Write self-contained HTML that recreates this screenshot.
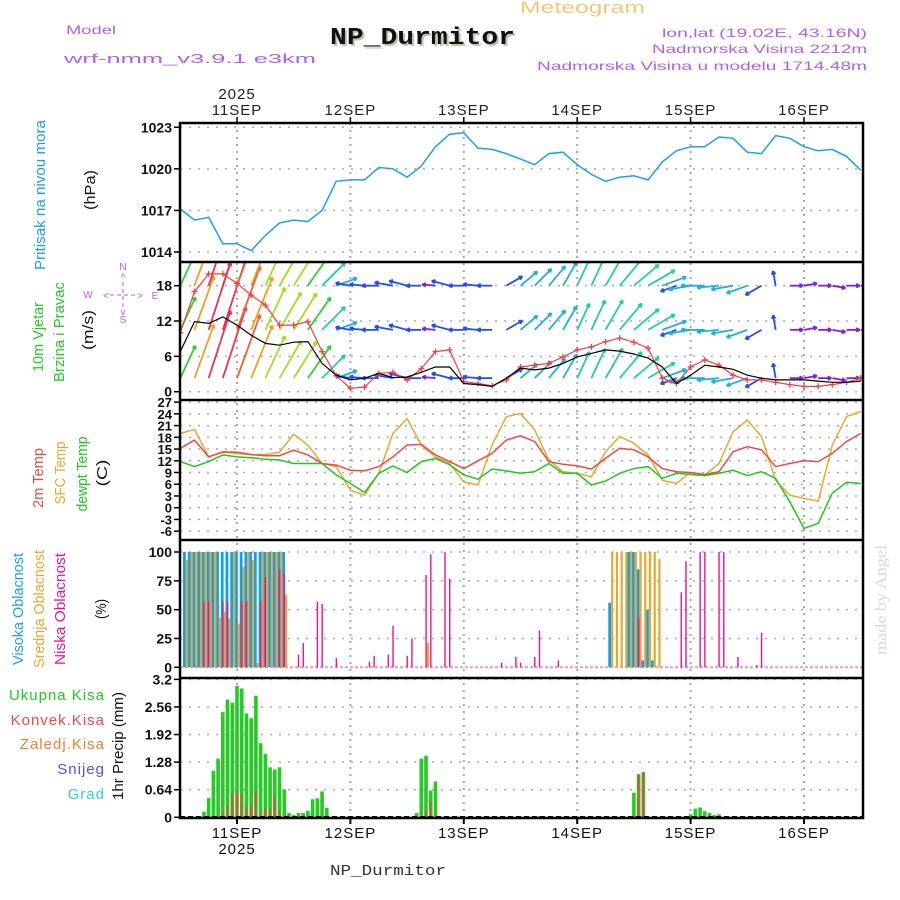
<!DOCTYPE html>
<html><head><meta charset="utf-8">
<style>
html,body{margin:0;padding:0;background:#fff;}
svg{display:block;font-family:"Liberation Sans",sans-serif;}
</style></head>
<body>
<svg id="chart" width="900" height="900" viewBox="0 0 900 900" xmlns="http://www.w3.org/2000/svg">
<rect x="0" y="0" width="900" height="900" fill="#fff"/>
<text x="520" y="13" font-size="17" fill="#f0c878" textLength="125" lengthAdjust="spacingAndGlyphs">Meteogram</text>
<text x="66" y="34" font-size="12" fill="#b060f0" textLength="50" lengthAdjust="spacingAndGlyphs">Model</text>
<text x="64" y="63" font-size="13" fill="#b060f0" textLength="252" lengthAdjust="spacingAndGlyphs">wrf-nmm_v3.9.1 e3km</text>
<text x="332" y="46" font-size="24" font-weight="bold" font-family="Liberation Mono, monospace" fill="#b8c8b0" textLength="185" lengthAdjust="spacingAndGlyphs">NP_Durmitor</text>
<text x="330" y="44" font-size="24" font-weight="bold" font-family="Liberation Mono, monospace" fill="#111" textLength="185" lengthAdjust="spacingAndGlyphs">NP_Durmitor</text>
<text x="867" y="37" font-size="12" fill="#b060f0" text-anchor="end" textLength="205" lengthAdjust="spacingAndGlyphs">lon,lat (19.02E, 43.16N)</text>
<text x="867" y="53" font-size="12" fill="#b060f0" text-anchor="end" textLength="215" lengthAdjust="spacingAndGlyphs">Nadmorska Visina 2212m</text>
<text x="867" y="70" font-size="12" fill="#b060f0" text-anchor="end" textLength="330" lengthAdjust="spacingAndGlyphs">Nadmorska Visina u modelu 1714.48m</text>
<text x="388" y="875" font-size="15" font-family="Liberation Mono, monospace" fill="#333" text-anchor="middle" textLength="116" lengthAdjust="spacingAndGlyphs">NP_Durmitor</text>
<text transform="translate(886,600) rotate(-90)" font-size="16" font-family="Liberation Serif, serif" fill="#d4dcd4" text-anchor="middle" textLength="110" lengthAdjust="spacingAndGlyphs">made by Angel</text>
</svg>
<script>
// ===== data (3-hourly, hours relative to 11SEP 00UTC) =====
const hours = [-12,-9,-6,-3,0,3,6,9,12,15,18,21,24,27,30,33,36,39,42,45,48,51,54,57,60,63,66,69,72,75,78,81,84,87,90,93,96,99,102,105,108,111,114,117,120,123,126,129,132];
const pressure = [1017.1,1016.3,1016.5,1014.6,1014.6,1014.1,1015.2,1016.1,1016.3,1016.2,1017,1019.1,1019.2,1019.2,1020.1,1020,1019.4,1020.2,1021.6,1022.5,1022.6,1021.5,1021.4,1021.1,1020.7,1020.3,1021.1,1021.2,1020.3,1019.6,1019.1,1019.4,1019.5,1019.2,1020.5,1021.3,1021.6,1021.6,1022.3,1022.2,1021.2,1021.1,1022.4,1022.2,1021.6,1021.3,1021.4,1020.9,1019.9];
const windSpeed = [6.8,11.9,11.6,12.7,11.3,9.6,8.2,7.9,8.4,8.5,4.8,2.8,2,2.3,3.1,2.4,2.5,3.3,4.2,4.2,1.4,1.2,0.9,2.3,4,3.7,4,4.8,5.9,6.5,7.1,6.9,6.4,5.7,4.2,1.4,2.8,4.5,4.2,3.8,2.8,2.3,2,2,2,1.8,1.6,1.6,1.8];
const windGust = [10,17,20,20,18.4,16.4,14.7,11.3,11.3,11.9,6.8,2.7,0.6,0.8,3.1,3.3,2,3.9,6.8,7.1,1.7,1.4,1,2,4.2,4.5,4.8,5.9,7.1,7.6,8.5,9.1,8.4,7.4,2.3,1.4,4.2,5.4,4.5,2.8,2,2,1.6,1.2,0.9,0.9,1.2,1.6,2.3];
const arrowSpeed = [8,14,18,19,17,14,11,10,10,9,7,4,2,2,2.5,3,3,2,1.5,3,2,2,2,3,4,4.5,5,5.5,6,7,7.5,7.5,7,6.5,5,2.5,4,4.5,4,4,4,3,2,1.5,1.5,1.5,1.5,1.5,1.5];
const arrowDir = [65,70,72,72,70,68,65,60,58,55,45,20,170,175,180,170,165,180,175,165,180,175,180,30,40,45,50,60,65,65,60,50,40,30,20,200,190,180,185,190,200,210,100,0,10,0,350,0,0];
const temp2m = [15.2,17.3,13,14.3,14.2,13.6,13.3,13.3,14.7,13.5,11.3,10.9,9.6,9.4,10.5,13,16,16.2,13.5,11.8,10,12,13.9,17.3,18.4,16.9,11.8,11.1,10.7,9.9,12.6,15.2,14.8,13,10,9.2,9,8.5,9.2,14.3,15.6,14.8,10.5,11.3,12,11.8,13.9,16.9,19];
const tempSfc = [19,20,13,14.2,13.9,13.5,13.6,14.2,18.8,16,11.3,10.5,4.5,3.2,8.8,19,22.8,16,13,11.3,6.6,5.8,16,23.3,24.1,19.9,12.2,9.2,8.8,7.9,14.3,18.2,16.5,13.5,7,6.2,9,8.4,11.3,19.4,22.4,18.2,7,3.2,2.4,1.7,16,23.3,24.6];
const tempDew = [11.8,10.5,11.8,13.5,13,12.8,12.4,12.2,11.3,11.3,11.3,8.4,6.2,3.9,8.8,10.7,9,11.8,12.6,11,8.4,7.3,9.9,9.4,8.8,9.2,11.3,8.8,8.8,5.8,6.8,8.8,10,10.5,7.5,8.8,8.5,8.2,8.8,9.6,8.2,9.2,7.5,1.5,-5.3,-4,3.7,6.5,6.2];
// cloud (hourly, sparse)
const highHours = [-11,-10,-9,-8,-7,-6,-5,-4,-3,-2,-1,0,1,2,3,4,5,6,7,8,9,10,79,83,84,85,86,87,88];
const highVals  = [100,100,100,100,100,100,100,100,100,100,100,100,100,100,100,100,100,100,100,100,100,100,56,100,100,85,6,50,6];
const midHours = [-11,-10,-9,-8,-7,-6,-5,-4,-3,-2,-1,0,1,2,3,4,5,6,7,8,9,10,40,79,80,81,82,83,84,85,86,87,88,89];
const midVals  = [93,100,100,100,100,100,100,43,48,42,100,38,87,100,93,4,100,100,100,100,100,63,21,100,100,100,100,100,100,100,100,100,100,94];
const lowHours = [-7,-6,-3,-2,1,2,5,6,9,10,13,14,17,18,21,28,29,32,33,36,37,40,41,44,45,56,59,60,63,64,68,85,94,95,98,99,102,103,106,110,111];
const lowVals  = [57,57,57,57,57,57,57,78,85,81,11,21,57,55,8,5,10,11,36,10,25,80,98,100,77,4,9,4,9,32,6,43,65,92,100,100,100,100,9,2,30];
// precipitation (hourly, sparse)
const precipHours = [-7,-6,-5,-4,-3,-2,-1,0,1,2,3,4,5,6,7,8,9,10,11,12,13,14,15,16,17,18,19,38,39,40,41,42,84,85,86,96,97,98,99,100,101,102];
const precipVals  = [0.13,0.45,1.08,1.36,2.44,2.73,2.66,3.05,2.99,2.41,2.3,2.82,1.72,1.47,1.16,1.11,1.16,0.65,0.1,0.05,0.1,0.1,0.15,0.42,0.44,0.6,0.22,0.1,1.36,1.43,0.62,0.83,0.57,1.0,1.05,0.07,0.2,0.23,0.14,0.1,0.05,0.07];
const convHours = [-3,-2,-1,0,1,2,3,4,5,6,7,8,9,40,41,64,85,86];
const convVals  = [0.1,0.27,0.55,0.6,0.55,0.24,0.27,0.6,0.1,0.2,0.2,0.47,0.15,0.15,0.35,0.03,1.0,1.05];
const dayHours = [0,24,48,72,96,120];
const dayLabels = ['11SEP','12SEP','13SEP','14SEP','15SEP','16SEP'];
const pTicks = [1014,1017,1020,1023];
const wTicks = [0,6,12,18];
const tTicks = [-6,-3,0,3,6,9,12,15,18,21,24,27];
const cTicks = [0,25,50,75,100];
const rTicks = [0,0.64,1.28,1.92,2.56,3.2];

// ===== axes =====
const X0=180, X1=863;
const xS = h => 237 + 4.725*h;
const yP = v => 252 - (v-1014)*13.86;
const yW = v => 391.7 - 5.89*v;
const yT = v => 507.7 - 3.91*v;
const yC = v => 667.3 - 1.153*v;
const yR = v => 817.3 - 43.1*v;
const panels=[[123,262],[262,400],[400,540],[540,678],[678,818]];

const svg=document.getElementById('chart');
const NS='http://www.w3.org/2000/svg';
function mk(tag, attrs, parent){const e=document.createElementNS(NS,tag);for(const k in attrs)e.setAttribute(k,attrs[k]);(parent||svg).appendChild(e);return e;}
function txt(s, attrs, parent){const e=mk('text',attrs,parent);e.textContent=s;return e;}

const defs=mk('defs',{});
panels.forEach((p,i)=>{const c=mk('clipPath',{id:'clip'+i},defs);mk('rect',{x:X0,y:p[0],width:X1-X0,height:p[1]-p[0]},c);});

const grid=mk('g',{});


function hgrid(ticks, fy){ticks.forEach(t=>{const l=mk('line',{x1:X0,x2:X1,y1:fy(t),y2:fy(t),stroke:'#aaa','stroke-width':1.5,'stroke-dasharray':'2,7'},grid);

});}
hgrid(pTicks,yP);hgrid(wTicks,yW);hgrid(tTicks,yT);hgrid(cTicks.filter(t=>t>0),yC);hgrid(rTicks.filter(t=>t>0),yR);
dayHours.forEach(h=>{const l=mk('line',{x1:xS(h),x2:xS(h),y1:123,y2:818,stroke:'#aaa','stroke-width':2,'stroke-dasharray':'2,5'},grid);

});

function ylabels(ticks, fy, fmt, name, fs){ticks.forEach(t=>{const e=txt(fmt(t),{x:172,y:fy(t)+5,'font-size':fs,'font-weight':'bold','text-anchor':'end',fill:'#111'});


mk('line',{x1:174,x2:180,y1:fy(t),y2:fy(t),stroke:'#000','stroke-width':1.5});});}
ylabels(pTicks,yP,t=>String(t),'pressure-tick-label',14);
ylabels(wTicks,yW,t=>String(t),'wind-tick-label',14);
ylabels(tTicks,yT,t=>String(t),'temp-tick-label',13);
ylabels(cTicks,yC,t=>String(t),'cloud-tick-label',14);
ylabels(rTicks,yR,t=>String(t),'precip-tick-label',14);

dayHours.forEach((h,i)=>{
 const a=txt(dayLabels[i],{x:xS(h),y:115,'font-size':15,'text-anchor':'middle',fill:'#222','letter-spacing':'1'});
 
 
 const b=txt(dayLabels[i],{x:xS(h),y:838,'font-size':15,'text-anchor':'middle',fill:'#111','letter-spacing':'1'});
 
 
 mk('line',{x1:xS(h),x2:xS(h),y1:117,y2:123,stroke:'#000','stroke-width':1.5});
 mk('line',{x1:xS(h),x2:xS(h),y1:818,y2:824,stroke:'#000','stroke-width':2});
});
const y1=txt('2025',{x:xS(0),y:99,'font-size':15,'text-anchor':'middle',fill:'#222','letter-spacing':'1'});


const y2=txt('2025',{x:xS(0),y:854,'font-size':15,'text-anchor':'middle',fill:'#111','letter-spacing':'1'});



function linePath(vals, fy){return vals.map((v,i)=>(i?'L':'M')+xS(hours[i]).toFixed(1)+','+fy(v).toFixed(1)).join('');}
const pl=mk('path',{d:linePath(pressure,yP),fill:'none',stroke:'#1aa0f0','stroke-width':1.5,'clip-path':'url(#clip0)'});



function spdColor(s){const c=['#8020e0','#2050f0','#20b0e0','#20d0a0','#30d030','#a0e020','#e0d020','#f0a020','#f06030','#f03050','#f01080'];return c[Math.max(0,Math.min(c.length-1,Math.floor(s/2)))];}
const wg=mk('g',{'clip-path':'url(#clip1)'});


const rowBases=[2.3,10.5,18];
rowBases.forEach(base=>{
 hours.forEach((h,i)=>{
  const sp=arrowSpeed[i], a=arrowDir[i]*Math.PI/180, L=8+sp*3.5;
  const x1=xS(h), yb=yW(base), x2=x1+L*Math.cos(a), y2=yb-L*Math.sin(a);
  const col=spdColor(sp);
  const g=mk('g',{stroke:col,'stroke-width':1.8,fill:'none'},wg);
  
  
  mk('line',{x1:x1,y1:yb,x2:x2,y2:y2},g);
  const hl=4;
  [a+Math.PI*0.85,a-Math.PI*0.85].forEach(b=>mk('line',{x1:x2,y1:y2,x2:x2+hl*Math.cos(b),y2:y2-hl*Math.sin(b)},g));
 });
});
const gl=mk('path',{d:linePath(windGust,yW),fill:'none',stroke:'#f04040','stroke-width':1.2,'clip-path':'url(#clip1)'});


windGust.forEach((v,i)=>{const x=xS(hours[i]),y=yW(v);
 const m=mk('path',{d:`M${x-3},${y}h6M${x},${y-3}v6`,stroke:'#f04040','stroke-width':1.3,'clip-path':'url(#clip1)'});
 
 });
const wl=mk('path',{d:linePath(windSpeed,yW),fill:'none',stroke:'#000','stroke-width':1.2,'clip-path':'url(#clip1)'});



[[tempSfc,'#e8a830','sfc-temp-line'],[temp2m,'#f04848','temp-2m-line'],[tempDew,'#20c820','dewpoint-line']].forEach(s=>{
 const p=mk('path',{d:linePath(s[0],yT),fill:'none',stroke:s[1],'stroke-width':1.5,'clip-path':'url(#clip2)'});
 
 });

const cg=mk('g',{'clip-path':'url(#clip3)'});


mk('line',{x1:X0,x2:X1,y1:yC(0),y2:yC(0),stroke:'#e0a0c0','stroke-width':2,'stroke-dasharray':'3,2'},cg);
highHours.forEach((h,i)=>{const b=mk('rect',{x:xS(h)-2,y:yC(highVals[i]),width:2.8,height:yC(0)-yC(highVals[i]),fill:'#10a0f0'},cg);
 
 });
midHours.forEach((h,i)=>{const b=mk('rect',{x:xS(h)+0.8,y:yC(midVals[i]),width:2.2,height:yC(0)-yC(midVals[i]),fill:'#e8a830'},cg);
 
 });
lowHours.forEach((h,i)=>{const b=mk('rect',{x:xS(h)-0.6,y:yC(lowVals[i]),width:1.4,height:yC(0)-yC(lowVals[i]),fill:'#f01090'},cg);
 
 });

const rg=mk('g',{'clip-path':'url(#clip4)'});


precipHours.forEach((h,i)=>{const b=mk('rect',{x:xS(h)-1.8,y:yR(precipVals[i]),width:3.6,height:yR(0)-yR(precipVals[i]),fill:'#22cc22'},rg);
 
 });
convHours.forEach((h,i)=>{const b=mk('rect',{x:xS(h)-1,y:yR(convVals[i]),width:1.6,height:yR(0)-yR(convVals[i]),fill:'#f04040'},rg);
 
 });
mk('line',{x1:X0,x2:X1,y1:817,y2:817,stroke:'#000','stroke-width':2,'stroke-dasharray':'5,3'});

const fr=mk('rect',{x:X0,y:123,width:X1-X0,height:695,fill:'none',stroke:'#000','stroke-width':2.5});


[262,400,540,678].forEach(y=>{const l=mk('line',{x1:X0,x2:X1,y1:y,y2:y,stroke:'#000','stroke-width':2.5});
 
 });

function vlab(s,x,yc,len,col,fs,name){const e=txt(s,{transform:`translate(${x},${yc}) rotate(-90)`,'font-size':fs,fill:col,'text-anchor':'middle',textLength:len,lengthAdjust:'spacingAndGlyphs'});
 
 }
vlab('Pritisak na nivou mora',45,195,150,'#1aa0f0',15,'pressure-axis-title');
vlab('(hPa)',95,190,40,'#111',15,'pressure-unit');
vlab('10m Vjetar',43,337,70,'#22cc22',15,'wind-axis-title');
vlab('Brzina i Pravac',64,332,100,'#22cc22',15,'wind-axis-subtitle');
vlab('(m/s)',93,330,40,'#111',15,'wind-unit');
vlab('2m Temp',43,478,60,'#f04848',15,'temp-2m-title');
vlab('SFC Temp',65,473,63,'#e8a830',15,'sfc-temp-title');
vlab('dewpt Temp',87,474,75,'#20c820',15,'dewpoint-title');
vlab('(C)',107,473,27,'#111',15,'temp-unit');
vlab('Visoka Oblacnost',23,609,112,'#1aa0f0',15,'high-cloud-title');
vlab('Srednja Oblacnost',44,609,118,'#e8a830',15,'mid-cloud-title');
vlab('Niska Oblacnost',65,609,112,'#f01090',15,'low-cloud-title');
vlab('(%)',106,609,20,'#111',15,'cloud-unit');
vlab('1hr Precip (mm)',123,746,108,'#111',15,'precip-axis-title');
[['Ukupna  Kisa','#22cc22',700,'legend-total-precip'],['Konvek.Kisa','#f04848',725,'legend-convective'],['Zaledj.Kisa','#f08030',749,'legend-freezing'],['Snijeg','#5050f0',774,'legend-snow'],['Grad','#30d0d0',799,'legend-hail']].forEach(l=>{
 const e=txt(l[0],{x:105,y:l[2],'font-size':15,fill:l[1],'text-anchor':'end','letter-spacing':'1'});
 
 });

const cp=mk('g',{fill:'#b060f0',stroke:'none','font-size':10,'text-anchor':'middle'});


txt('N',{x:123,y:270},cp);txt('S',{x:123,y:323},cp);txt('W',{x:88,y:298},cp);txt('E',{x:155,y:299},cp);
txt('^',{x:123,y:281},cp);txt('v',{x:123,y:315},cp);txt('<',{x:106,y:299},cp);txt('>',{x:140,y:299},cp);
mk('path',{d:'M110,295h26M123,282v26',stroke:'#b060f0','stroke-width':1,'stroke-dasharray':'4,3'},cp);
</script>
</body></html>
